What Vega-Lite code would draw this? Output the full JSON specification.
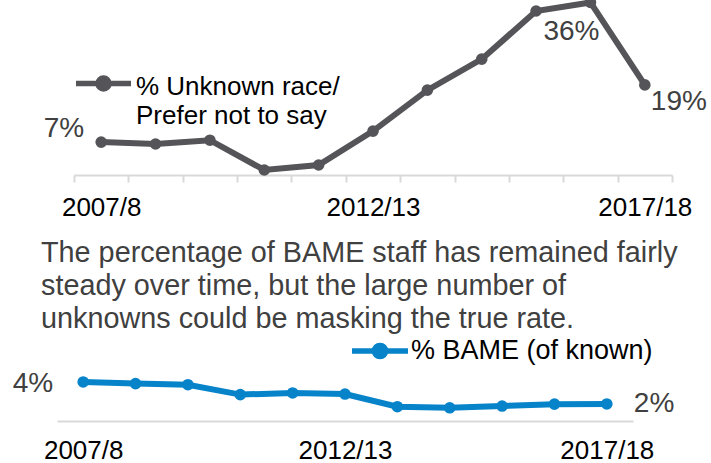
{
  "$schema": "https://vega.github.io/schema/vega-lite/v6.json",
  "padding": {"left": 0, "top": -10, "right": 0, "bottom": 0},
  "background": "white",
  "spacing": 19,
  "config": {
    "view": {"stroke": null},
    "font": "Liberation Sans",
    "axis": {"grid": false}
  },
  "resolve": {"scale": {"color": "independent"}, "legend": {"color": "independent"}},
  "vconcat": [
    {
      "width": 598,
      "height": 174,
      "data": {"values": [
        {"year": "2007/8", "pct": 0.069, "series": "% Unknown race/ Prefer not to say"},
        {"year": "2008/9", "pct": 0.065, "series": "% Unknown race/ Prefer not to say"},
        {"year": "2009/10", "pct": 0.073, "series": "% Unknown race/ Prefer not to say"},
        {"year": "2010/11", "pct": 0.0105, "series": "% Unknown race/ Prefer not to say"},
        {"year": "2011/12", "pct": 0.021, "series": "% Unknown race/ Prefer not to say"},
        {"year": "2012/13", "pct": 0.092, "series": "% Unknown race/ Prefer not to say"},
        {"year": "2013/14", "pct": 0.178, "series": "% Unknown race/ Prefer not to say"},
        {"year": "2014/15", "pct": 0.243, "series": "% Unknown race/ Prefer not to say"},
        {"year": "2015/16", "pct": 0.344, "series": "% Unknown race/ Prefer not to say"},
        {"year": "2016/17", "pct": 0.362, "series": "% Unknown race/ Prefer not to say"},
        {"year": "2017/18", "pct": 0.189, "series": "% Unknown race/ Prefer not to say"}
      ]},
      "encoding": {
        "x": {
          "field": "year", "type": "ordinal", "sort": null,
          "scale": {"paddingInner": 0, "paddingOuter": 0},
          "axis": {
            "title": null, "labelAngle": 0,
            "labelExpr": "indexof(['2007/8','2012/13','2017/18'], datum.value) >= 0 ? datum.value : ''",
            "labelFontSize": 26, "labelColor": "#000000", "labelPadding": 12,
            "labelOverlap": false, "labelFlush": false, "labelBound": false,
            "tickSize": 7, "tickWidth": 2, "tickColor": "#D9D9D9", "tickBand": "extent",
            "domainColor": "#D9D9D9", "domainWidth": 2
          }
        },
        "y": {
          "field": "pct", "type": "quantitative",
          "scale": {"domain": [0, 0.365]},
          "axis": {
            "title": ".", "titleColor": "#ffffff", "titleAngle": 0, "titleX": -74, "titleY": 170,
            "titleAlign": "left", "titleBaseline": "bottom", "titleFontSize": 6,
            "labels": false, "ticks": false, "domain": false, "grid": false
          }
        },
        "color": {
          "field": "series", "type": "nominal",
          "scale": {"domain": ["% Unknown race/ Prefer not to say"], "range": ["#555559"]},
          "legend": {
            "title": null, "orient": "none", "legendX": -1, "legendY": 52,
            "symbolType": "M-1,0L1,0M0.2,0A0.2,0.2,0,1,1,-0.2,0A0.2,0.2,0,1,1,0.2,0Z",
            "symbolSize": 3025, "symbolStrokeWidth": 5, "labelFontSize": 26, "labelColor": "#000000",
            "labelOffset": 2, "labelLimit": 400,
            "labelExpr": "['% Unknown race/', 'Prefer not to say']",
            "encode": {
              "symbols": {"update": {"fill": {"value": "#555559"}, "stroke": {"value": "#555559"}, "strokeWidth": {"value": 5.5}, "opacity": {"value": 1}}},
              "labels": {"update": {"dy": {"value": 3}, "lineHeight": {"value": 29}}}
            }
          }
        }
      },
      "layer": [
        {"mark": {"type": "line", "strokeWidth": 6}},
        {"mark": {"type": "point", "filled": true, "size": 135, "opacity": 1}},
        {
          "transform": [{"filter": "datum.year == '2007/8'"}],
          "mark": {"type": "text", "align": "right", "baseline": "middle", "dx": -17, "dy": -13, "fontSize": 28},
          "encoding": {"text": {"field": "pct", "format": ".0%"}, "color": {"value": "#404040"}}
        },
        {
          "transform": [{"filter": "datum.year == '2016/17'"}],
          "mark": {"type": "text", "align": "center", "baseline": "middle", "dx": -19, "dy": 30, "fontSize": 28},
          "encoding": {"text": {"field": "pct", "format": ".0%"}, "color": {"value": "#404040"}}
        },
        {
          "transform": [{"filter": "datum.year == '2017/18'"}],
          "mark": {"type": "text", "align": "left", "baseline": "middle", "dx": 6, "dy": 17, "fontSize": 28},
          "encoding": {"text": {"field": "pct", "format": ".0%"}, "color": {"value": "#404040"}}
        }
      ]
    },
    {
      "width": 559,
      "height": 77,
      "title": {
        "text": ["The percentage of BAME staff has remained fairly", "steady over time, but the large number of", "unknowns could be masking the true rate."],
        "anchor": "start", "frame": "group", "fontSize": 28.8, "fontWeight": "normal",
        "color": "#404040", "lineHeight": 33, "dx": -33, "offset": -14, "font": "Liberation Sans"
      },
      "data": {"values": [
        {"year": "2007/8", "pct": 0.0405, "series": "% BAME (of known)"},
        {"year": "2008/9", "pct": 0.039, "series": "% BAME (of known)"},
        {"year": "2009/10", "pct": 0.038, "series": "% BAME (of known)"},
        {"year": "2010/11", "pct": 0.029, "series": "% BAME (of known)"},
        {"year": "2011/12", "pct": 0.0305, "series": "% BAME (of known)"},
        {"year": "2012/13", "pct": 0.0295, "series": "% BAME (of known)"},
        {"year": "2013/14", "pct": 0.018, "series": "% BAME (of known)"},
        {"year": "2014/15", "pct": 0.017, "series": "% BAME (of known)"},
        {"year": "2015/16", "pct": 0.0186, "series": "% BAME (of known)"},
        {"year": "2016/17", "pct": 0.0203, "series": "% BAME (of known)"},
        {"year": "2017/18", "pct": 0.0205, "series": "% BAME (of known)"}
      ]},
      "encoding": {
        "x": {
          "field": "year", "type": "ordinal", "sort": null,
          "scale": {"paddingInner": 0, "paddingOuter": 0, "range": [-17, 559]},
          "axis": {
            "title": null, "labelAngle": 0,
            "labelExpr": "indexof(['2007/8','2012/13','2017/18'], datum.value) >= 0 ? datum.value : ''",
            "labelFontSize": 26, "labelColor": "#000000", "labelPadding": 16,
            "labelOverlap": false, "labelFlush": false, "labelBound": false,
            "ticks": false, "domainColor": "#D9D9D9", "domainWidth": 2
          }
        },
        "y": {
          "field": "pct", "type": "quantitative",
          "scale": {"domain": [0.005, 0.075], "zero": false},
          "axis": null
        },
        "color": {
          "field": "series", "type": "nominal",
          "scale": {"domain": ["% BAME (of known)"], "range": ["#0783C9"]},
          "legend": {
            "title": null, "orient": "none", "legendX": 275, "legendY": -24,
            "symbolType": "M-1,0L1,0M0.2,0A0.2,0.2,0,1,1,-0.2,0A0.2,0.2,0,1,1,0.2,0Z",
            "symbolSize": 3136, "symbolStrokeWidth": 5, "labelFontSize": 27, "labelColor": "#000000",
            "labelOffset": 0, "labelLimit": 400,
            "encode": {
              "symbols": {"update": {"fill": {"value": "#0783C9"}, "stroke": {"value": "#0783C9"}, "strokeWidth": {"value": 5.5}, "opacity": {"value": 1}}}
            }
          }
        }
      },
      "layer": [
        {"mark": {"type": "line", "strokeWidth": 6}},
        {"mark": {"type": "point", "filled": true, "size": 135, "opacity": 1}},
        {
          "transform": [{"filter": "datum.year == '2007/8'"}],
          "mark": {"type": "text", "align": "right", "baseline": "middle", "dx": -30, "dy": 2, "fontSize": 28},
          "encoding": {"text": {"field": "pct", "format": ".0%"}, "color": {"value": "#404040"}}
        },
        {
          "transform": [{"filter": "datum.year == '2017/18'"}],
          "mark": {"type": "text", "align": "left", "baseline": "middle", "dx": 27, "dy": 0, "fontSize": 28},
          "encoding": {"text": {"field": "pct", "format": ".0%"}, "color": {"value": "#404040"}}
        }
      ]
    }
  ]
}
